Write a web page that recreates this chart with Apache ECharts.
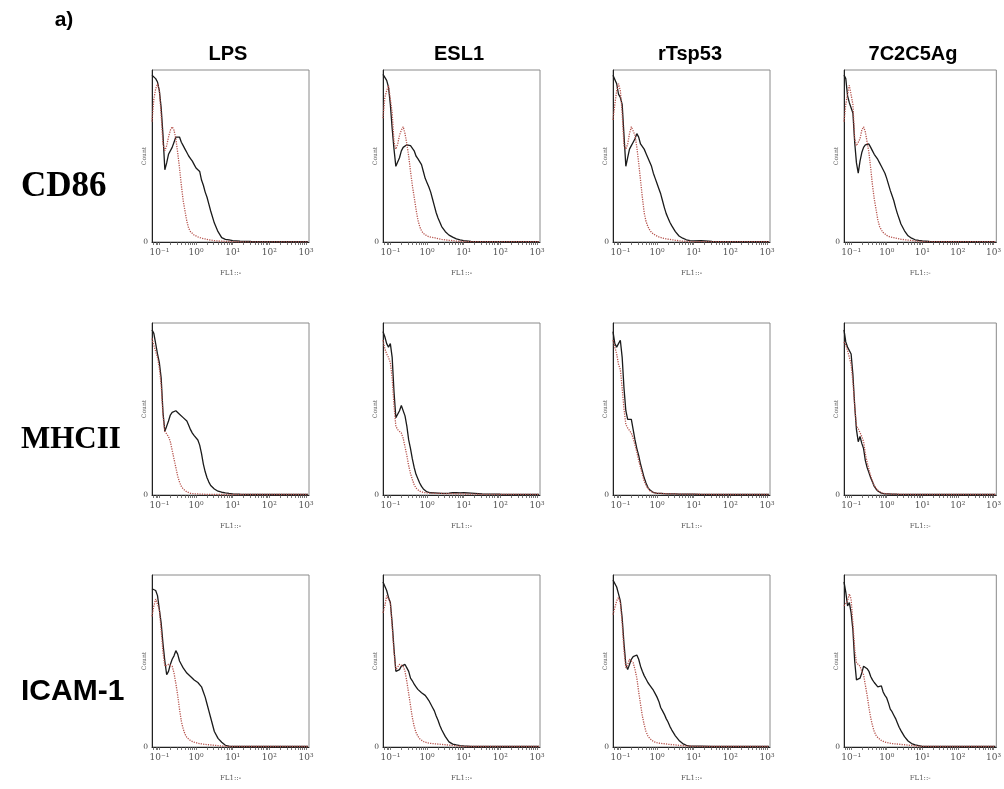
<!DOCTYPE html>
<html>
<head>
<meta charset="utf-8">
<script src="https://cdn.jsdelivr.net/npm/echarts@6/dist/echarts.min.js"></script>
<style>
html,body{margin:0;padding:0;background:#fff;}
#chart{width:1004px;height:789px;}
</style>
</head>
<body>
<div id="chart"></div>
<script>
// ---------- data ----------
const treatments = ['LPS', 'ESL1', 'rTsp53', '7C2C5Ag'];
const markers = ['CD86', 'MHCII', 'ICAM-1'];
const decadeExps = [-1, 0, 1, 2, 3];
const tickLabels = ['10\u207B\u00B9', '10\u2070', '10\u00B9', '10\u00B2', '10\u00B3'];
const yLabel = 'Count';
const xLabel = 'FL1::-';
const panelTag = 'a)';
// histogram bin positions (log10 of FL1 intensity)
const binLog = [-1.2,-1.15,-1.1,-1.05,-1.0,-0.95,-0.9,-0.85,-0.8,-0.75,-0.7,-0.65,-0.6,-0.55,-0.5,-0.45,-0.4,-0.35,-0.3,-0.25,-0.2,-0.15,-0.1,-0.05,0,0.05,0.1,0.15,0.2,0.25,0.3,0.35,0.4,0.5,0.6,0.7,0.8,0.9,1.0,1.2,1.5,2.0,2.5,3.05];

// counts (% of panel height); black = stained, red = control
const cd86_LPS_black = [97,96,95,93,88,78,62,42,46,51,52,55,58,61,62,61,58,56,54,52,50,48.5,47,45,43,42,41,36,33,29,26,22,18,11,6,2.5,1.5,1.2,0.8,0.5,0.3,0.2,0.2,0.2];
const cd86_LPS_red = [70,83,89,92,88,74,57,53,56,61,65,67,65,60,52,43,33,24,18,12,8,6,5,4,3.5,3,2.5,2.2,2,1.8,1.5,1.3,1.1,0.8,0.6,0.5,0.4,0.3,0.2,0.1,0.1,0.1,0.1,0.1];
const cd86_ESL1_black = [97.5,97,94,90,80,66,54,44,44,49,53,55,56,56.5,56,56,56,53,50,48.5,47.5,45,41,37,34.5,32,29,25,21,17,14,11.5,9,6,4,2.8,1.8,1.2,0.8,0.3,0.2,0.2,0.2,0.2];
const cd86_ESL1_red = [72,84,88,91,92,75,58,54,57,62,65,67,63,57,50,41,33,26,19,13,9,6.5,5,4,3.5,3,2.8,2.6,2.5,2.3,2,1.8,1.5,1.2,1,0.8,0.5,0.4,0.3,0.2,0.2,0.2,0.2,0.2];
const cd86_rTsp53_black = [97,96,92,86,84,80,62,44,49,54,56,58,60,63,61,57,56,54,51.5,49,46.5,44,40,37,34,31,28,24,20,16.5,14,11.5,9.5,6,3.5,2.2,1.3,0.8,0.6,0.8,0.3,0.2,0.2,0.2];
const cd86_rTsp53_red = [71,80,88,92,88,75,56,54,57,63,67,67,62,55,46,36,26,17,12,9,7,5.5,4.5,4,3.4,3,2.6,2.3,2,1.8,1.6,1.5,1.3,1,0.7,0.5,0.4,0.3,0.2,0.2,0.2,0.2,0.2,0.2];
const cd86_7C2C5Ag_black = [97,95,85,81,80,75,58,46,40,47,52,55,56.5,57.5,57,55,53,51,49.5,48,46,44,42,40,37,33.5,30,27,24,20,16.5,13.5,10.5,6.5,3.6,2.2,1.3,0.9,0.6,0.3,0.2,0.2,0.2,0.2];
const cd86_7C2C5Ag_red = [70,80,86,91,90,80,60,56,56,60,65,67,64,58,52,43,33,25,19,13,9,7,5.5,4.5,3.8,3.2,2.9,2.7,2.5,2.2,2,1.8,1.6,1.3,1.1,0.9,0.6,0.4,0.3,0.2,0.2,0.2,0.2,0.2];

const mhc_LPS_black = [96,94,88,82,77,68,48,37,37,43,46.5,48,49,49,48,47,46,45,44.5,43,40.5,38,36,34.5,33.5,32,29,24,18,13.5,10,7.5,5.5,3.5,2.2,1.6,1.2,0.9,0.7,0.5,0.3,0.3,0.3,0.3];
const mhc_LPS_red = [91,87,86,80,74,64,46,37,35.5,34,31,26,21,16,11,7.5,5,3.5,2.5,1.8,1.3,1,0.8,0.7,0.6,0.6,0.5,0.5,0.5,0.4,0.4,0.4,0.4,0.3,0.3,0.3,0.3,0.3,0.3,0.3,0.3,0.3,0.3,0.3];
const mhc_ESL1_black = [95,92,88,86,88,80,60,45,45,49,52,51,46,40,32,27,21,16,12,9.5,7,5,3.5,2.5,1.8,1.5,1.3,1.2,1.2,1.1,1.1,1.1,1.0,1.0,1.1,1.3,1.4,1.2,1.3,1.1,0.7,0.5,0.4,0.4];
const mhc_ESL1_red = [90,85,82,80,77,68,52,40,38,37,36,33,28,23,17,12.5,9,6,4,3,2.2,1.8,1.5,1.3,1.2,1.1,1.1,1,1,1,0.9,0.9,0.9,0.8,0.8,0.8,0.7,0.7,0.6,0.5,0.4,0.4,0.4,0.4];
const mhc_rTsp53_black = [95,88,86,88,90,80,62,49,44,43,44,38,32,27,23,18,14,10,7,4.5,3,2,1.5,1.2,1,1,1,0.9,0.8,0.8,0.7,0.7,0.7,0.6,0.5,0.5,0.5,0.5,0.5,0.4,0.3,0.3,0.3,0.3];
const mhc_rTsp53_red = [90,86,82,76,73,62,50,41,39,38.5,36,33,29,25,20,16,12,8,5.5,4,2.5,1.8,1.4,1.2,1,1,0.9,0.9,0.8,0.8,0.7,0.7,0.7,0.6,0.5,0.5,0.5,0.5,0.5,0.4,0.3,0.3,0.3,0.3];
const mhc_7C2C5Ag_black = [96,89,86,85,82,70,52,38,31,34,30,27,20,16,13,10,7.5,5,3.5,2.3,1.5,1.1,0.9,0.7,0.7,0.6,0.6,0.5,0.5,0.5,0.5,0.4,0.4,0.4,0.4,0.3,0.3,0.3,0.3,0.3,0.3,0.3,0.3,0.3];
const mhc_7C2C5Ag_red = [89,87,84,80,76,66,52,40,38.5,39,34,31,24,19,15,11,8,5.5,4,2.7,1.8,1.3,1,0.8,0.7,0.6,0.6,0.5,0.5,0.5,0.5,0.4,0.4,0.4,0.4,0.3,0.3,0.3,0.3,0.3,0.3,0.3,0.3,0.3];

const icam_LPS_black = [92,93,91,88,80,72,60,50,42,44,48,51,53,56,54,50,48,46,45,43,42,41,40,39,38.5,37.5,36.5,35,32,29,25,21,17,9,5,2.8,1,0.5,0.3,0.3,0.3,0.3,0.3,0.3];
const icam_LPS_red = [76,82,86,87,80,68,55,47,47,48,49,47,43,37,30,22,15,10.5,7.5,5.5,4.5,3.7,3.2,2.8,2.5,2.2,2,1.8,1.7,1.5,1.4,1.3,1.2,1,0.8,0.6,0.5,0.3,0.3,0.3,0.3,0.3,0.3,0.3];
const icam_ESL1_black = [96,95,91,87,84,72,57,44,43,45,47,48,48,46,44,40,38.5,36.5,35,33.5,32.5,31.5,31,30,28.5,27,25,23,21,18,15.5,12.5,10,6,3,1.7,1.2,0.8,0.6,0.4,0.4,0.4,0.4,0.4];
const icam_ESL1_red = [78,82,88,89,84,70,55,45,46,48,49,47,44,38,31,24,17,12,8.5,6.3,4.8,3.8,3.2,2.8,2.5,2.3,2.1,2,1.9,1.8,1.7,1.6,1.5,1.3,1.1,0.9,0.7,0.5,0.3,0.3,0.3,0.3,0.3,0.3];
const icam_rTsp53_black = [97,96.5,93,89,85,75,60,48,45,48,51,52.5,53.5,53.5,51,47,44,41.5,39.5,37.5,36,35,33,31,29,26.5,23,21,19,16.5,14.5,12,10,6.5,3.8,2,0.9,0.5,0.5,0.5,0.4,0.4,0.4,0.4];
const icam_rTsp53_red = [77,81,85,87,84,72,56,46,48,51,51,49,45,40,32,25,18,13,9,6.5,5,4,3.2,2.8,2.5,2.3,2.1,2,1.9,1.8,1.6,1.5,1.4,1.2,1,0.8,0.6,0.5,0.4,0.3,0.3,0.3,0.3,0.3];
const icam_7C2C5Ag_black = [96,90,82,84,78,68,50,39,38,40,43,47,46,45.5,44,41,39,37.5,36.5,35,35,35.5,32,30,28.5,25.5,22,20.5,18.5,16.5,14,11.5,9.5,6,3.5,2,1.2,0.8,0.4,0.4,0.4,0.4,0.4,0.4];
const icam_7C2C5Ag_red = [82,81,85,89,86,72,57,49,48,47,44,42,36,30,23,17,12.5,9,6.8,5.5,4.5,3.8,3.2,2.9,2.6,2.4,2.2,2,1.9,1.8,1.7,1.6,1.5,1.3,1.1,0.9,0.7,0.5,0.4,0.3,0.3,0.3,0.3,0.3];

const blackSets = [
  [cd86_LPS_black, cd86_ESL1_black, cd86_rTsp53_black, cd86_7C2C5Ag_black],
  [mhc_LPS_black, mhc_ESL1_black, mhc_rTsp53_black, mhc_7C2C5Ag_black],
  [icam_LPS_black, icam_ESL1_black, icam_rTsp53_black, icam_7C2C5Ag_black]
];
const redSets = [
  [cd86_LPS_red, cd86_ESL1_red, cd86_rTsp53_red, cd86_7C2C5Ag_red],
  [mhc_LPS_red, mhc_ESL1_red, mhc_rTsp53_red, mhc_7C2C5Ag_red],
  [icam_LPS_red, icam_ESL1_red, icam_rTsp53_red, icam_7C2C5Ag_red]
];

// ---------- layout ----------
const colLeft = [152, 383, 613, 844];
const colCenter = [228, 459, 690, 913];
const rowTop = [70, 323, 575];
const boxW = 157, boxH = 172;
const X_MIN = -1.2, X_MAX = 3.08;

// minor tick positions on log axis
const tickPos = [];
for (let d = -2; d <= 3; d++) {
  for (let k = 1; k <= 9; k++) {
    const v = d + Math.log10(k);
    if (v >= X_MIN && v <= X_MAX) tickPos.push(+v.toFixed(4));
  }
}

const grids = [], xAxes = [], yAxes = [], series = [];
let gi = 0;
for (let r = 0; r < 3; r++) {
  for (let c = 0; c < 4; c++) {
    grids.push({
      left: colLeft[c], top: rowTop[r], width: boxW, height: boxH,
      show: true, borderColor: '#8a8a8a', borderWidth: 1, backgroundColor: 'transparent'
    });
    xAxes.push({
      type: 'value', gridIndex: gi, min: X_MIN, max: X_MAX,
      name: xLabel, nameLocation: 'middle', nameGap: 28, nameMoveOverlap: false,
      nameTextStyle: { fontFamily: 'DejaVu Serif', fontSize: 7, color: '#555' },
      axisLine: { show: true, onZero: false, lineStyle: { color: '#222', width: 1 } },
      axisTick: { show: true, customValues: tickPos, length: 3, inside: false, lineStyle: { color: '#555', width: 0.8 } },
      axisLabel: {
        show: true, customValues: decadeExps, margin: 6,
        fontFamily: 'DejaVu Serif', fontSize: 9, color: '#555',
        formatter: v => tickLabels[decadeExps.indexOf(Math.round(v))] || ''
      },
      splitLine: { show: false }
    });
    yAxes.push({
      type: 'value', gridIndex: gi, min: 0, max: 100,
      name: yLabel, nameLocation: 'middle', nameGap: 5, nameRotate: 90, nameMoveOverlap: false,
      nameTextStyle: { fontFamily: 'DejaVu Serif', fontSize: 6, color: '#555' },
      axisLine: { show: true, onZero: false, lineStyle: { color: '#222', width: 1 } },
      axisTick: { show: false },
      axisLabel: { show: true, customValues: [0], margin: 4, fontFamily: 'DejaVu Serif', fontSize: 7.5, color: '#444', formatter: () => '0' },
      splitLine: { show: false }
    });
    series.push({
      type: 'line', xAxisIndex: gi, yAxisIndex: gi, showSymbol: false, silent: true,
      data: binLog.map((x, i) => [x, blackSets[r][c][i]]),
      lineStyle: { color: '#1a1a1a', width: 1.3 }, z: 3
    });
    series.push({
      type: 'line', xAxisIndex: gi, yAxisIndex: gi, showSymbol: false, silent: true,
      data: binLog.map((x, i) => [x, redSets[r][c][i]]),
      lineStyle: { color: '#b5524c', width: 1.3, type: [1.2, 1.2] }, z: 4
    });
    gi++;
  }
}

const graphics = [];
graphics.push({ type: 'text', x: 64, y: 20, style: { text: panelTag, font: 'bold 21px "Liberation Sans"', fill: '#000', align: 'center', verticalAlign: 'middle' } });
for (let c = 0; c < 4; c++) {
  graphics.push({ type: 'text', x: colCenter[c], y: 54, style: { text: treatments[c], font: 'bold 20px "Liberation Sans"', fill: '#000', align: 'center', verticalAlign: 'middle' } });
}
const rowLabelY = [187, 440, 692];
const rowFonts = ['bold 35px "Liberation Serif"', 'bold 31px "Liberation Serif"', 'bold 30px "Liberation Sans"'];
for (let r = 0; r < 3; r++) {
  graphics.push({ type: 'text', x: 21, y: rowLabelY[r], style: { text: markers[r], font: rowFonts[r], fill: '#000', align: 'left', verticalAlign: 'middle' } });
}

const chart = echarts.init(document.getElementById('chart'), null, { renderer: 'canvas' });
chart.setOption({
  animation: false,
  backgroundColor: '#fff',
  grid: grids, xAxis: xAxes, yAxis: yAxes, series: series,
  graphic: graphics
});
</script>
</body>
</html>
